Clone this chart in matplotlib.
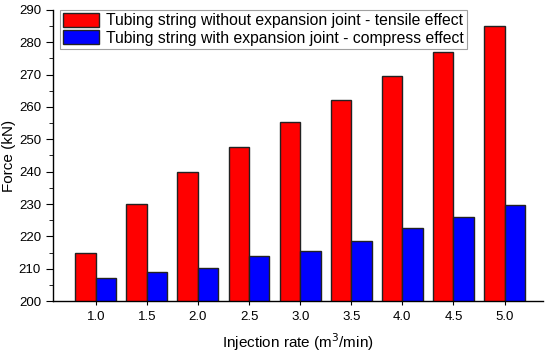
import matplotlib
matplotlib.use("Agg")
import matplotlib.pyplot as plt
from matplotlib.ticker import MultipleLocator
import numpy as np

plt.rcParams['font.family'] = ['Liberation Sans', 'DejaVu Sans']

categories = ["1.0", "1.5", "2.0", "2.5", "3.0", "3.5", "4.0", "4.5", "5.0"]
without_joint = [215.0, 230.0, 239.8, 247.7, 255.2, 262.2, 269.5, 277.1, 284.9]
with_joint = [207.0, 209.0, 210.2, 213.8, 215.6, 218.6, 222.7, 226.1, 229.8]

fig = plt.figure(figsize=(5.5, 3.53), dpi=100)
ax = fig.add_axes([0.096, 0.147, 0.892, 0.825])

x = np.arange(len(categories))
w = 0.4
ax.bar(x - w/2, without_joint, width=w, color="#ff0000", edgecolor="#222222", linewidth=1.0,
       label="Tubing string without expansion joint - tensile effect")
ax.bar(x + w/2, with_joint, width=w, color="#0000ff", edgecolor="#222222", linewidth=1.0,
       label="Tubing string with expansion joint - compress effect")

ax.set_ylim(200, 290)
ax.set_xlim(-0.84, 8.76)
ax.yaxis.set_major_locator(MultipleLocator(10))
ax.yaxis.set_minor_locator(MultipleLocator(5))
ax.set_xticks(x)
ax.set_xticklabels(categories)
ax.tick_params(axis='x', length=3, labelsize=9.5, pad=4, direction='out')
ax.tick_params(axis='y', which='major', length=5, labelsize=9.5, direction='out')
ax.tick_params(axis='y', which='minor', length=3, direction='out')
for s in ['top', 'right']:
    ax.spines[s].set_visible(False)
for s in ['left', 'bottom']:
    ax.spines[s].set_linewidth(1.0)

ax.set_xlabel("Injection rate (m$^3$/min)", fontsize=11, labelpad=6)
ax.set_ylabel("Force (kN)", fontsize=11, labelpad=2)

leg = ax.legend(loc='upper left', bbox_to_anchor=(0.015, 1.0), fontsize=11.3, frameon=True,
                fancybox=False, edgecolor="#888888", handlelength=2.3, handleheight=1.0,
                borderpad=0.2, labelspacing=0.12, handletextpad=0.4, borderaxespad=0.0)
leg.get_frame().set_linewidth(0.8)

fig.savefig("out.png", dpi=100)
